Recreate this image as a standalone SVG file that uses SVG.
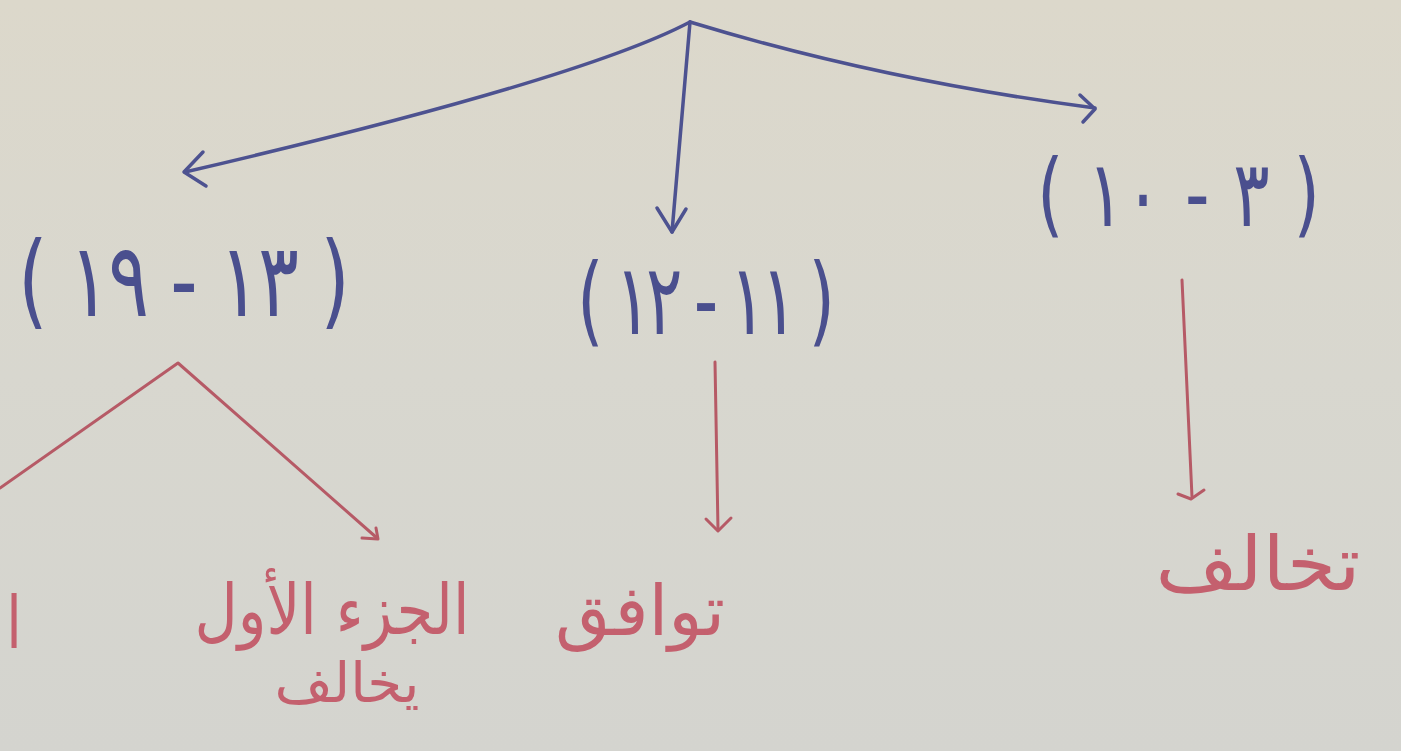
<svg xmlns="http://www.w3.org/2000/svg" width="1401" height="751" viewBox="0 0 1401 751">
  <defs>
    <linearGradient id="paper" x1="0" y1="0" x2="0" y2="1">
      <stop offset="0" stop-color="#dcd8cb"/>
      <stop offset="0.5" stop-color="#d8d7cf"/>
      <stop offset="1" stop-color="#d4d4cf"/>
    </linearGradient>
    <style>
      .blue { fill: none; stroke: #4d5290; stroke-width: 3.5; stroke-linecap: round; stroke-linejoin: round; }
      .red { fill: none; stroke: #b65a66; stroke-width: 3; stroke-linecap: round; stroke-linejoin: round; }
      .num { font-family: "DejaVu Sans", "Noto Sans", sans-serif; fill: #4a4f8e; direction: ltr; unicode-bidi: bidi-override; white-space: pre; }
      .word { font-family: "DejaVu Sans", "Noto Sans", sans-serif; fill: #c4606e; text-anchor: middle; }
    </style>
  </defs>
  <rect width="1401" height="751" fill="url(#paper)"/>

  <g id="connectors">
    <!-- blue arrows from root -->
    <path class="blue" d="M690,22 Q580,80 185,172"/>
    <path class="blue" d="M203,152 L184,172 L206,186"/>
    <path class="blue" d="M690,22 L672,232"/>
    <path class="blue" d="M657,208 L672,232 L686,209"/>
    <path class="blue" d="M690,22 Q880,80 1095,108"/>
    <path class="blue" d="M1080,95 L1095,109 L1083,122"/>
    <!-- red arrows -->
    <path class="red" d="M0,488 L178,363 L377,538"/>
    <path class="red" d="M376,528 L378,539 L362,538"/>
    <path class="red" d="M715,362 L718,530"/>
    <path class="red" d="M706,519 L718,531 L731,518"/>
    <path class="red" d="M1182,280 L1192,497"/>
    <path class="red" d="M1178,494 L1191,499 L1204,490"/>
  </g>

  <g id="node-13-19">
    <text class="num" transform="translate(18,316) scale(1,1.35)" font-size="76" textLength="332" lengthAdjust="spacing">( ١٩ - ١٣ )</text>
  </g>
  <g id="node-11-12">
    <text class="num" transform="translate(577,334) scale(1,1.45)" font-size="68" textLength="258" lengthAdjust="spacing">( ١٢ - ١١ )</text>
  </g>
  <g id="node-3-10">
    <text class="num" transform="translate(1037,226) scale(1,1.35)" font-size="68" textLength="283" lengthAdjust="spacing">( ١٠ - ٣ )</text>
  </g>

  <g id="node-partial-left">
    <text class="word" transform="translate(14,648) scale(1,1.3)" font-size="56">ا</text>
  </g>
  <g id="node-first-part">
    <text class="word" transform="translate(332,634) scale(1,1.28)" font-size="54" textLength="275" lengthAdjust="spacingAndGlyphs">الجزء الأول</text>
    <text class="word" transform="translate(347,702) scale(1,1.15)" font-size="48" textLength="145" lengthAdjust="spacingAndGlyphs">يخالف</text>
  </g>
  <g id="node-agree">
    <text class="word" transform="translate(640,635) scale(1,1.3)" font-size="54" textLength="170" lengthAdjust="spacingAndGlyphs">توافق</text>
  </g>
  <g id="node-differ">
    <text class="word" transform="translate(1258,590) scale(1,1.3)" font-size="58" textLength="205" lengthAdjust="spacingAndGlyphs">تخالف</text>
  </g>
</svg>
